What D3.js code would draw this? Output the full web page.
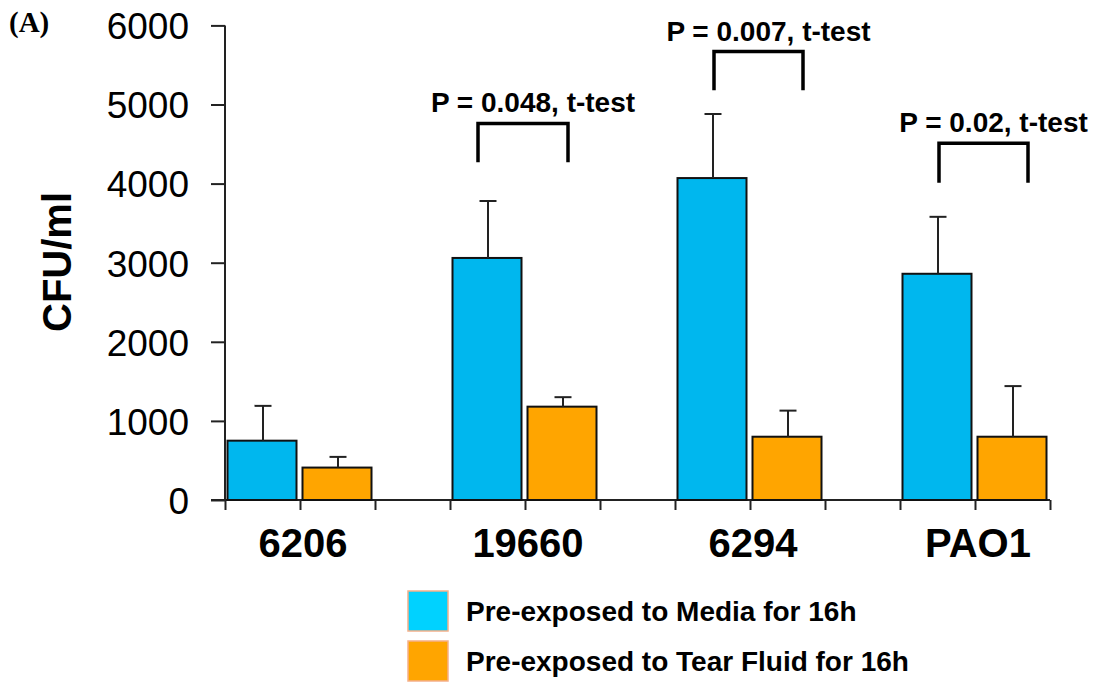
<!DOCTYPE html>
<html>
<head>
<meta charset="utf-8">
<script src="https://cdn.jsdelivr.net/npm/d3@7"></script>
<style>
  html, body { margin: 0; padding: 0; background: #fff; }
  svg { display: block; }
  text { font-family: "Liberation Sans", Arial, sans-serif; fill: #000; }
</style>
</head>
<body>
<svg id="chart" width="1094" height="684"></svg>
<script>
// Strains and their CFU/ml counts (mean and upper error) for each pre-exposure condition
const strains = ["6206", "19660", "6294", "PAO1"];
const seriesNames = ["Pre-exposed to Media for 16h", "Pre-exposed to Tear Fluid for 16h"];
const mediaMean = [750, 3060, 4070, 2860];
const mediaErrTop = [1190, 3780, 4880, 3580];
const tearMean = [410, 1180, 800, 800];
const tearErrTop = [545, 1300, 1130, 1440];
const yTicks = [0, 1000, 2000, 3000, 4000, 5000, 6000];

// Significance annotations: strain index, label, bracket top and leg end (CFU/ml)
const sigStrain = [1, 2, 3];
const sigLabel = ["P = 0.048, t-test", "P = 0.007, t-test", "P = 0.02, t-test"];
const sigTop = [4760, 5670, 4510];
const sigLegEnd = [4270, 5180, 4010];

const barColors = ["#00B7EE", "#FFA500"];
const legendColors = ["#00D2FF", "#FFA500"];

const svg = d3.select("#chart");

// Each strain takes three slots (media, tear fluid, gap); the last strain has no gap
const slotCount = strains.length * 3 - 1;
const x = d3.scaleLinear().domain([0, slotCount]).range([225, 1050]);
const y = d3.scaleLinear().domain([0, 6000]).range([500, 25.4]);
const slotW = x(1) - x(0);

// Y axis
const yAxis = d3.axisLeft(y).tickValues(yTicks).tickSize(14).tickPadding(22).tickFormat(d3.format("d"));
const gy = svg.append("g").attr("transform", `translate(${x(0)},0)`).call(yAxis);
gy.select(".domain").attr("stroke", "#222").attr("stroke-width", 2).attr("d", `M0,${y(6000)}V${y(0)}`);
gy.selectAll(".tick line").attr("stroke", "#222").attr("stroke-width", 2);
gy.selectAll(".tick text").attr("font-size", 37).style("font-family", "'Liberation Sans', Arial, sans-serif").attr("fill", "#000").attr("dy", "0.36em");

// X axis baseline with a tick at every slot boundary
const slotBounds = d3.range(0, slotCount + 1);
const gx = svg.append("g").attr("transform", `translate(0,${y(0)})`)
  .call(d3.axisBottom(x).tickValues(slotBounds).tickSize(10).tickFormat(""));
gx.select(".domain").attr("stroke", "#222").attr("stroke-width", 2).attr("d", `M${x(0) - 14},0H${x(slotCount)}`);
gx.selectAll(".tick line").attr("stroke", "#222").attr("stroke-width", 2);

// Strain labels, centred between the paired bars
svg.append("g").selectAll("text").data(strains).join("text")
  .attr("x", (d, i) => x(i * 3 + 1) + 3)
  .attr("y", 557)
  .attr("text-anchor", "middle")
  .attr("font-size", 40).attr("font-weight", "bold")
  .text(d => d);

// Y axis title
svg.append("text")
  .attr("transform", `translate(71,262) rotate(-90)`)
  .attr("text-anchor", "middle")
  .attr("font-size", 40).attr("font-weight", "bold")
  .text("CFU/ml");

// Panel label
svg.append("text")
  .attr("x", 9).attr("y", 32)
  .style("font-family", "'Liberation Serif', 'Times New Roman', serif")
  .attr("font-size", 29).attr("font-weight", "bold")
  .text("(A)");

// Bars and error bars
const bars = [];
strains.forEach((s, i) => {
  bars.push({ slot: i * 3, v: mediaMean[i], e: mediaErrTop[i], c: 0 });
  bars.push({ slot: i * 3 + 1, v: tearMean[i], e: tearErrTop[i], c: 1 });
});
const inset = 2.5, barW = slotW - 6;

svg.append("g").selectAll("rect").data(bars).join("rect")
  .attr("x", d => x(d.slot) + inset)
  .attr("y", d => y(d.v))
  .attr("width", barW)
  .attr("height", d => y(0) - y(d.v))
  .attr("fill", d => barColors[d.c])
  .attr("stroke", "#111").attr("stroke-width", 2);

const eb = svg.append("g").attr("stroke", "#222").attr("stroke-width", 2).attr("fill", "none");
bars.forEach(d => {
  const cx = x(d.slot) + inset + barW / 2 + 1;
  eb.append("line").attr("x1", cx).attr("x2", cx).attr("y1", y(d.v)).attr("y2", y(d.e));
  eb.append("line").attr("x1", cx - 8.5).attr("x2", cx + 8.5).attr("y1", y(d.e)).attr("y2", y(d.e));
});

// Significance brackets
const sg = svg.append("g");
sigStrain.forEach((si, k) => {
  const x1 = x(si * 3) + (si === 1 ? 28 : 39);
  const x2 = x(si * 3 + 1) + (si === 1 ? 43 : 53);
  sg.append("path")
    .attr("d", `M${x1},${y(sigLegEnd[k])}V${y(sigTop[k])}H${x2}V${y(sigLegEnd[k])}`)
    .attr("fill", "none").attr("stroke", "#000").attr("stroke-width", 3.5);
  sg.append("text")
    .attr("x", (x1 + x2) / 2 + 10)
    .attr("y", y(sigTop[k]) - 11)
    .attr("text-anchor", "middle")
    .attr("font-size", 28).attr("font-weight", "bold")
    .text(sigLabel[k]);
});

// Legend
const lg = svg.append("g").attr("transform", "translate(408,591)");
seriesNames.forEach((name, i) => {
  const row = lg.append("g").attr("transform", `translate(0,${i * 50})`);
  row.append("rect").attr("width", 40).attr("height", 40)
    .attr("fill", legendColors[i]).attr("stroke", "#F5B08A").attr("stroke-width", 1.5);
  row.append("text").attr("x", 58).attr("y", 30)
    .attr("font-size", 28).attr("font-weight", "bold")
    .text(name);
});
</script>
</body>
</html>
